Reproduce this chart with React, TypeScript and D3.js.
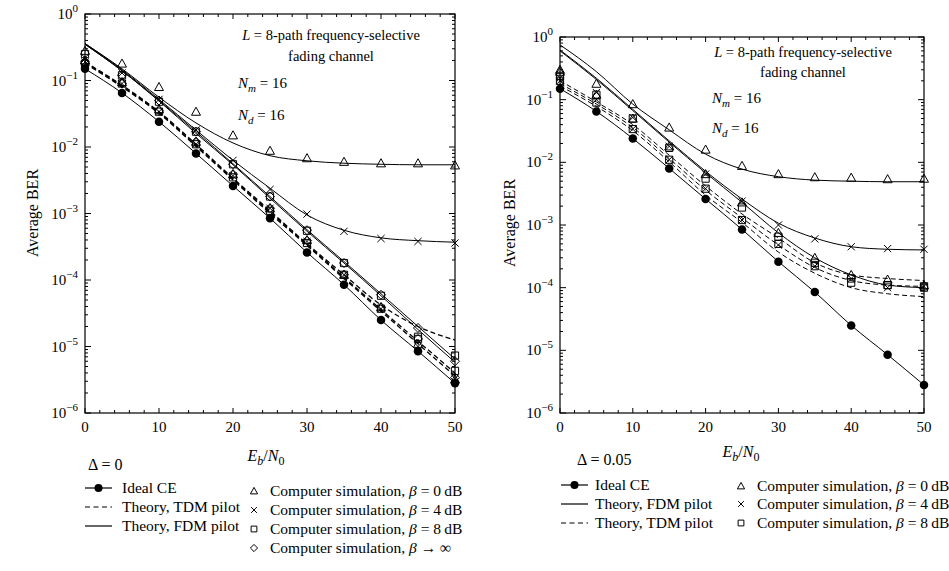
import React from "react";
import * as d3 from "d3";

// ---------- data ----------
const ebn0 = [0, 5, 10, 15, 20, 25, 30, 35, 40, 45, 50];
const xTicks = [0, 10, 20, 30, 40, 50];
const yDecades = [0, -1, -2, -3, -4, -5, -6];

// Left panel (Delta = 0)
const leftIdeal = [0.15, 0.065, 0.024, 0.008, 0.0026, 0.00085, 0.00026, 0.000085, 0.000025, 0.0000085, 0.0000028];
const leftFdm0 = [0.36, 0.15, 0.056, 0.023, 0.0115, 0.0074, 0.0062, 0.0057, 0.0055, 0.0054, 0.0054];
const leftFdm4 = [0.36, 0.145, 0.052, 0.018, 0.0063, 0.0024, 0.00095, 0.00056, 0.00043, 0.00039, 0.00037];
const leftFdm8 = [0.35, 0.14, 0.05, 0.017, 0.0056, 0.0018, 0.00057, 0.00019, 0.000062, 0.00002, 0.0000065];
const leftFdmInf = [0.35, 0.14, 0.049, 0.016, 0.0054, 0.0017, 0.00054, 0.00018, 0.000058, 0.000018, 0.0000058];
const leftTdm0 = [0.19, 0.085, 0.034, 0.011, 0.0034, 0.0011, 0.00035, 0.00012, 0.000042, 0.00002, 0.0000125];
const leftTdm4 = [0.185, 0.082, 0.033, 0.0105, 0.0033, 0.00105, 0.00034, 0.00011, 0.000036, 0.000012, 0.000004];
const leftTdm8 = [0.18, 0.08, 0.032, 0.0102, 0.0032, 0.001, 0.00033, 0.000105, 0.000034, 0.000011, 0.0000036];
const leftSimTri = [0.28, 0.18, 0.08, 0.034, 0.015, 0.0088, 0.0068, 0.006, 0.0057, 0.0057, 0.0053];
const leftSimTriTdm = [0.2, 0.095, 0.037, 0.012, 0.0039, 0.0012, 0.0004, 0.00012, 0.000039, 0.000011, 0.0000032];
const leftSimX = [0.22, 0.13, 0.052, 0.018, 0.0063, 0.0023, 0.00098, 0.00054, 0.00042, 0.00038, 0.00036];
const leftSimXTdm = [0.19, 0.09, 0.034, 0.011, 0.0037, 0.0012, 0.00038, 0.00012, 0.000037, 0.00001, 0.0000033];
const leftSimSq = [0.25, 0.12, 0.048, 0.017, 0.0055, 0.0018, 0.00055, 0.00018, 0.000058, 0.000014, 0.0000073];
const leftSimSqTdm = [0.18, 0.09, 0.034, 0.011, 0.0035, 0.0011, 0.00036, 0.00012, 0.000037, 0.000013, 0.0000043];
const leftSimDia = [0.19, 0.12, 0.05, 0.017, 0.0055, 0.0018, 0.00056, 0.00018, 0.00006, 0.000019, 0.000006];
const leftSimDiaTdm = [0.18, 0.09, 0.035, 0.012, 0.0039, 0.0012, 0.00039, 0.00012, 0.000039, 0.000013, 0.0000034];

// Right panel (Delta = 0.05)
const rightIdeal = [0.15, 0.065, 0.024, 0.008, 0.0026, 0.00085, 0.00026, 0.000085, 0.000025, 0.0000085, 0.0000028];
const rightFdm0 = [0.75, 0.28, 0.085, 0.033, 0.0135, 0.0078, 0.0059, 0.0052, 0.005, 0.0049, 0.0049];
const rightFdm4 = [0.62, 0.22, 0.07, 0.022, 0.0072, 0.0026, 0.00107, 0.00062, 0.00045, 0.00041, 0.0004];
const rightFdm8 = [0.6, 0.21, 0.067, 0.021, 0.0068, 0.0023, 0.00075, 0.0003, 0.00016, 0.00011, 0.0001];
const rightTdm0 = [0.2, 0.092, 0.04, 0.013, 0.0042, 0.0015, 0.00062, 0.00025, 0.00016, 0.00014, 0.00013];
const rightTdm4 = [0.18, 0.085, 0.036, 0.0115, 0.0036, 0.0013, 0.00048, 0.00021, 0.00013, 0.00011, 0.000105];
const rightTdm8 = [0.165, 0.078, 0.032, 0.0102, 0.003, 0.0011, 0.00037, 0.00017, 0.0001, 0.00008, 0.000072];
const rightSimTri = [0.3, 0.18, 0.085, 0.036, 0.016, 0.0088, 0.0065, 0.0058, 0.0057, 0.0054, 0.0055];
const rightSimTri2 = [0.28, 0.12, 0.05, 0.018, 0.0065, 0.0023, 0.00075, 0.0003, 0.00016, 0.000135, 0.00011];
const rightSimX = [0.22, 0.13, 0.052, 0.018, 0.0065, 0.0024, 0.001, 0.0006, 0.00045, 0.00042, 0.00041];
const rightSimX2 = [0.2, 0.1, 0.034, 0.011, 0.0038, 0.0012, 0.00048, 0.00022, 0.00014, 0.0001, 0.000105];
const rightSimSq = [0.24, 0.12, 0.05, 0.017, 0.0055, 0.0019, 0.00065, 0.00025, 0.00012, 0.00011, 0.0001];
const rightSimSq2 = [0.2, 0.09, 0.034, 0.011, 0.0038, 0.0012, 0.0005, 0.00022, 0.00014, 0.00011, 0.000105];

const FONT = "'Liberation Serif', 'DejaVu Serif', serif";

type Shape = "tri" | "x" | "sq" | "dia" | "dot";

function markerPath(shape: Shape, x: number, y: number, s: number) {
  switch (shape) {
    case "tri":
      return `M${x},${y - s} L${x + s},${y + s * 0.8} L${x - s},${y + s * 0.8} Z`;
    case "x":
      return `M${x - s * 0.8},${y - s * 0.8} L${x + s * 0.8},${y + s * 0.8} M${x + s * 0.8},${y - s * 0.8} L${x - s * 0.8},${y + s * 0.8}`;
    case "sq":
      return `M${x - s * 0.8},${y - s * 0.8} h${s * 1.6} v${s * 1.6} h${-s * 1.6} Z`;
    case "dia":
      return `M${x},${y - s} L${x + s},${y} L${x},${y + s} L${x - s},${y} Z`;
    default:
      return "";
  }
}

function Marker({ shape, x, y, s }: { shape: Shape; x: number; y: number; s: number }) {
  if (shape === "dot") return <circle cx={x} cy={y} r={s * 0.85} fill="#000" />;
  return <path d={markerPath(shape, x, y, s)} fill="none" stroke="#000" strokeWidth={1} />;
}

type Curve = { values: number[]; dashed?: boolean; w?: number };
type Sim = { values: number[]; shape: Shape };

function Panel(props: {
  id: string;
  x0: number; x1: number; y0: number; y1: number;
  curves: Curve[];
  sims: Sim[];
  ideal: number[];
  ann: { cx: number; lx: number; y: number; gap: number; };
  yLabel: { x: number; y: number };
  xLabel: { x: number; y: number };
}) {
  const { x0, x1, y0, y1 } = props;
  const x = d3.scaleLinear().domain([0, 50]).range([x0, x1]);
  const y = d3.scaleLog().domain([1e-6, 1]).range([y1, y0]);
  const line = d3
    .line<number>()
    .x((_, i) => x(ebn0[i]))
    .y((v) => y(v))
    .curve(d3.curveMonotoneX);

  const xMinor = d3.range(0, 51, 2).filter((v) => v % 10 !== 0);
  const yMinor: number[] = [];
  for (let e = -6; e < 0; e++) for (let m = 2; m <= 9; m++) yMinor.push(m * Math.pow(10, e));

  return (
    <g>
      <defs>
        <clipPath id={props.id}>
          <rect x={x0} y={y0} width={x1 - x0} height={y1 - y0} />
        </clipPath>
      </defs>
      <g clipPath={`url(#${props.id})`}>
        {props.curves.map((c, i) => (
          <path key={i} d={line(c.values) || ""} fill="none" stroke="#000" strokeWidth={c.w || 1}
            strokeDasharray={c.dashed ? "5,3" : undefined} />
        ))}
        <path d={line(props.ideal) || ""} fill="none" stroke="#000" strokeWidth={1} />
      </g>
      {props.sims.map((s, i) =>
        s.values.map((v, j) => <Marker key={`${i}-${j}`} shape={s.shape} x={x(ebn0[j])} y={y(v)} s={4.5} />)
      )}
      {props.ideal.map((v, j) => <Marker key={`id${j}`} shape="dot" x={x(ebn0[j])} y={y(v)} s={5} />)}

      {/* frame */}
      <rect x={x0} y={y0} width={x1 - x0} height={y1 - y0} fill="none" stroke="#000" strokeWidth={1.2} />
      {/* x ticks */}
      {xTicks.map((t) => (
        <g key={`xt${t}`}>
          <line x1={x(t)} x2={x(t)} y1={y1} y2={y1 - 5} stroke="#000" />
          <line x1={x(t)} x2={x(t)} y1={y0} y2={y0 + 5} stroke="#000" />
          <text x={x(t)} y={y1 + 19} textAnchor="middle" fontSize={15} fontFamily={FONT}>{t}</text>
        </g>
      ))}
      {xMinor.map((t) => (
        <g key={`xm${t}`}>
          <line x1={x(t)} x2={x(t)} y1={y1} y2={y1 - 3} stroke="#000" />
          <line x1={x(t)} x2={x(t)} y1={y0} y2={y0 + 3} stroke="#000" />
        </g>
      ))}
      {/* y ticks */}
      {yDecades.map((e) => {
        const yy = y(Math.pow(10, e));
        return (
          <g key={`yt${e}`}>
            <line x1={x0} x2={x0 + 6} y1={yy} y2={yy} stroke="#000" />
            <line x1={x1} x2={x1 - 6} y1={yy} y2={yy} stroke="#000" />
            <text x={x0 - 7} y={yy + 5} textAnchor="end" fontSize={15} fontFamily={FONT}>
              10<tspan dy={-7} fontSize={11}>{e === 0 ? "0" : `\u2212${-e}`}</tspan>
            </text>
          </g>
        );
      })}
      {yMinor.map((v, i) => (
        <g key={`ym${i}`}>
          <line x1={x0} x2={x0 + 3} y1={y(v)} y2={y(v)} stroke="#000" />
          <line x1={x1} x2={x1 - 3} y1={y(v)} y2={y(v)} stroke="#000" />
        </g>
      ))}
      {/* annotation */}
      <text x={props.ann.cx} y={props.ann.y} textAnchor="middle" fontSize={14.5} fontFamily={FONT}>
        <tspan fontStyle="italic">L</tspan> = 8-path frequency-selective
      </text>
      <text x={props.ann.cx} y={props.ann.y + props.ann.gap} textAnchor="middle" fontSize={14.5} fontFamily={FONT}>
        fading channel
      </text>
      <text x={props.ann.lx} y={props.ann.y + props.ann.gap * 2.3} fontSize={15} fontFamily={FONT}>
        <tspan fontStyle="italic">N</tspan><tspan fontStyle="italic" fontSize={11} dy={4}>m</tspan>
        <tspan dy={-4}> = 16</tspan>
      </text>
      <text x={props.ann.lx} y={props.ann.y + props.ann.gap * 3.8} fontSize={15} fontFamily={FONT}>
        <tspan fontStyle="italic">N</tspan><tspan fontStyle="italic" fontSize={11} dy={4}>d</tspan>
        <tspan dy={-4}> = 16</tspan>
      </text>
      {/* axis labels */}
      <text transform={`translate(${props.yLabel.x},${props.yLabel.y}) rotate(-90)`} textAnchor="middle"
        fontSize={16} fontFamily={FONT}>Average BER</text>
      <text x={props.xLabel.x} y={props.xLabel.y} textAnchor="middle" fontSize={16} fontFamily={FONT}>
        <tspan fontStyle="italic">E</tspan><tspan fontStyle="italic" fontSize={12} dy={4}>b</tspan>
        <tspan dy={-4}>/</tspan><tspan fontStyle="italic">N</tspan><tspan fontSize={12} dy={4}>0</tspan>
      </text>
    </g>
  );
}

function LegendLine({ x, y, kind }: { x: number; y: number; kind: "ideal" | "tdm" | "fdm" }) {
  return (
    <g>
      <line x1={x} x2={x + 27} y1={y} y2={y} stroke="#000" strokeWidth={1.2}
        strokeDasharray={kind === "tdm" ? "5,3.5" : undefined} />
      {kind === "ideal" && <circle cx={x + 13.5} cy={y} r={4} fill="#000" />}
    </g>
  );
}

function SimLabel({ x, y, shape, beta }: { x: number; y: number; shape: Shape; beta: string }) {
  return (
    <g>
      <Marker shape={shape} x={x} y={y} s={3.6} />
      <text x={x + 16} y={y + 5} fontSize={15.5} fontFamily={FONT}>
        Computer simulation, <tspan fontStyle="italic">β</tspan>
        {beta === "inf" ? " \u2192 \u221E" : ` = ${beta}\u2009dB`}
      </text>
    </g>
  );
}

export default function App() {
  return (
    <svg width={949} height={571} style={{ display: "block", position: "absolute", left: 0, top: 0, background: "#fff" }}>
      <rect width={949} height={571} fill="#fff" />
      <Panel
        id="clipL" x0={85} x1={455} y0={14} y1={413}
        curves={[
          { values: leftFdm0 }, { values: leftFdm4 }, { values: leftFdm8 }, { values: leftFdmInf },
          { values: leftTdm0, dashed: true, w: 1.3 }, { values: leftTdm4, dashed: true, w: 1.3 }, { values: leftTdm8, dashed: true, w: 1.3 },
        ]}
        sims={[
          { values: leftSimTri, shape: "tri" }, { values: leftSimTriTdm, shape: "tri" },
          { values: leftSimX, shape: "x" }, { values: leftSimXTdm, shape: "x" },
          { values: leftSimSq, shape: "sq" }, { values: leftSimSqTdm, shape: "sq" },
          { values: leftSimDia, shape: "dia" }, { values: leftSimDiaTdm, shape: "dia" },
        ]}
        ideal={leftIdeal}
        ann={{ cx: 331, lx: 238, y: 40, gap: 21 }}
        yLabel={{ x: 38, y: 213 }}
        xLabel={{ x: 266, y: 461 }}
      />
      <Panel
        id="clipR" x0={560} x1={924} y0={37} y1={413}
        curves={[
          { values: rightFdm0 }, { values: rightFdm4 }, { values: rightFdm8 },
          { values: rightTdm0, dashed: true }, { values: rightTdm4, dashed: true }, { values: rightTdm8, dashed: true },
        ]}
        sims={[
          { values: rightSimTri, shape: "tri" }, { values: rightSimTri2, shape: "tri" },
          { values: rightSimX, shape: "x" }, { values: rightSimX2, shape: "x" },
          { values: rightSimSq, shape: "sq" }, { values: rightSimSq2, shape: "sq" },
        ]}
        ideal={rightIdeal}
        ann={{ cx: 803, lx: 712, y: 57, gap: 20 }}
        yLabel={{ x: 515, y: 223 }}
        xLabel={{ x: 741, y: 457 }}
      />

      {/* Left legend */}
      <text x={88} y={470} fontSize={16} fontFamily={FONT}>Δ = 0</text>
      <LegendLine x={85} y={488} kind="ideal" />
      <text x={122} y={493} fontSize={15.5} fontFamily={FONT}>Ideal CE</text>
      <LegendLine x={85} y={507} kind="tdm" />
      <text x={122} y={512} fontSize={15.5} fontFamily={FONT}>Theory, TDM pilot</text>
      <LegendLine x={85} y={526} kind="fdm" />
      <text x={122} y={531} fontSize={15.5} fontFamily={FONT}>Theory, FDM pilot</text>
      <SimLabel x={254} y={491} shape="tri" beta="0" />
      <SimLabel x={254} y={510} shape="x" beta="4" />
      <SimLabel x={254} y={529} shape="sq" beta="8" />
      <SimLabel x={254} y={548} shape="dia" beta="inf" />

      {/* Right legend */}
      <text x={577} y={465} fontSize={16} fontFamily={FONT}>Δ = 0.05</text>
      <LegendLine x={561} y={485} kind="ideal" />
      <text x={595} y={490} fontSize={15.5} fontFamily={FONT}>Ideal CE</text>
      <LegendLine x={561} y={504} kind="fdm" />
      <text x={595} y={509} fontSize={15.5} fontFamily={FONT}>Theory, FDM pilot</text>
      <LegendLine x={561} y={523} kind="tdm" />
      <text x={595} y={528} fontSize={15.5} fontFamily={FONT}>Theory, TDM pilot</text>
      <SimLabel x={741} y={486} shape="tri" beta="0" />
      <SimLabel x={741} y={504} shape="x" beta="4" />
      <SimLabel x={741} y={523} shape="sq" beta="8" />
    </svg>
  );
}
